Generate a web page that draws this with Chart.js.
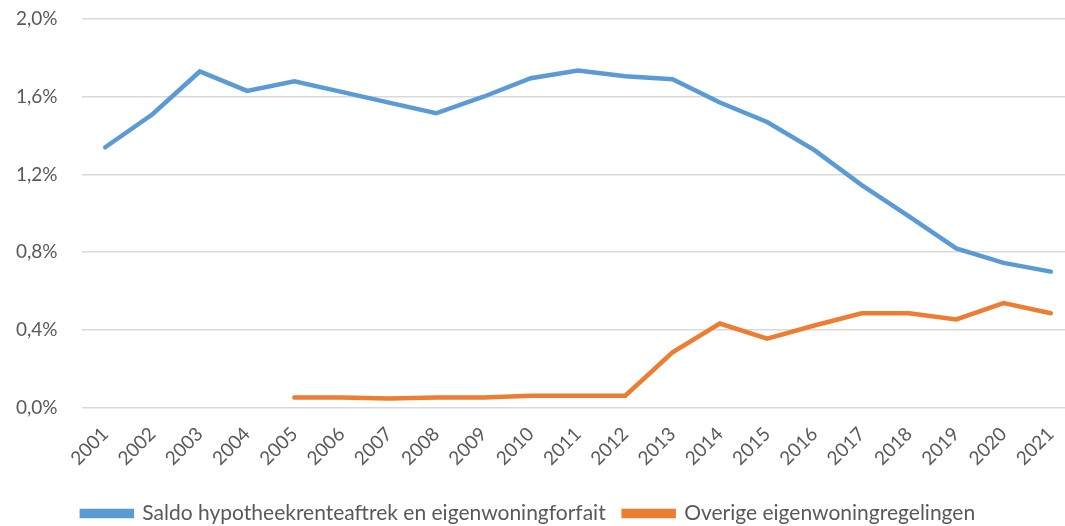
<!DOCTYPE html>
<html>
<head>
<meta charset="utf-8">
<script src="https://cdn.jsdelivr.net/npm/chart.js@4"></script>
<style>
  html, body { margin: 0; padding: 0; background: #fff; }
  #wrap { width: 1065px; height: 526px; }
</style>
</head>
<body>
<div id="wrap"><canvas id="mygraph"></canvas></div>
<script>
// jaren en waarden (% bbp)
const years = [2001, 2002, 2003, 2004, 2005, 2006, 2007, 2008, 2009, 2010, 2011,
               2012, 2013, 2014, 2015, 2016, 2017, 2018, 2019, 2020, 2021]
const saldo = [1.34, 1.51, 1.73, 1.63, 1.68, 1.625, 1.57, 1.515, 1.60, 1.695, 1.735,
               1.705, 1.69, 1.57, 1.47, 1.325, 1.145, 0.985, 0.82, 0.745, 0.70]
const overige = [null, null, null, null, 0.052, 0.052, 0.048, 0.052, 0.052, 0.062, 0.062,
                 0.062, 0.285, 0.433, 0.355, 0.423, 0.486, 0.486, 0.454, 0.538, 0.486]
const yTicks = [0, 0.4, 0.8, 1.2, 1.6, 2.0]

const labelSaldo = 'Saldo hypotheekrenteaftrek en eigenwoningforfait'
const labelOverige = 'Overige eigenwoningregelingen'

const toPoints = arr => years.map((y, i) => ({ x: y, y: arr[i] }))

const data = {
  datasets: [{
    label: labelSaldo,
    data: toPoints(saldo),
    borderColor: '#5b9bd5',
    backgroundColor: '#5b9bd5',
    borderWidth: 4.5,
    pointRadius: 0,
    borderCapStyle: 'round',
    tension: 0
  }, {
    label: labelOverige,
    data: toPoints(overige),
    borderColor: '#ed7d31',
    backgroundColor: '#ed7d31',
    borderWidth: 4.5,
    pointRadius: 0,
    borderCapStyle: 'round',
    spanGaps: false,
    tension: 0
  }]
}

const config = {
  type: 'line',
  data,
  options: {
    responsive: true,
    maintainAspectRatio: false,
    animation: false,
    layout: { padding: { top: 19, left: -8, right: 0, bottom: -8 } },
    scales: {
      x: {
        type: 'linear',
        min: 2000.5,
        max: 2021.3,
        afterBuildTicks: scale => { scale.ticks = years.map(v => ({ value: v })) },
        // geen extra ruimte links/rechts voor de gedraaide labels
        afterFit: scale => {
          scale.paddingLeft = 0
          scale.paddingRight = 0
          if (scale._margins) { scale._margins.left = 0; scale._margins.right = 0 }
        },
        grid: { display: false, drawTicks: false },
        border: { display: false },
        ticks: {
          color: '#595959',
          font: { family: 'Lato', size: 19 },
          maxRotation: 45,
          minRotation: 45,
          padding: 15,
          callback: v => String(v)
        }
      },
      y: {
        min: 0,
        max: 2.0,
        afterBuildTicks: scale => { scale.ticks = yTicks.map(v => ({ value: v })) },
        afterFit: scale => { scale.paddingTop = 0; scale.paddingBottom = 0 },
        grid: { color: '#d9d9d9', lineWidth: 1.5, drawTicks: false },
        border: { display: false },
        ticks: {
          color: '#595959',
          font: { family: 'Lato', size: 19 },
          padding: 24,
          callback: v => v.toFixed(1).replace('.', ',') + '%'
        }
      }
    },
    plugins: {
      legend: {
        position: 'bottom',
        labels: {
          color: '#595959',
          font: { family: 'Lato', size: 21 },
          boxWidth: 50,
          boxHeight: 5,
          padding: 18
        }
      },
      tooltip: { enabled: false }
    }
  }
}

const mygraph = new Chart(document.getElementById('mygraph'), config)
</script>
</body>
</html>
